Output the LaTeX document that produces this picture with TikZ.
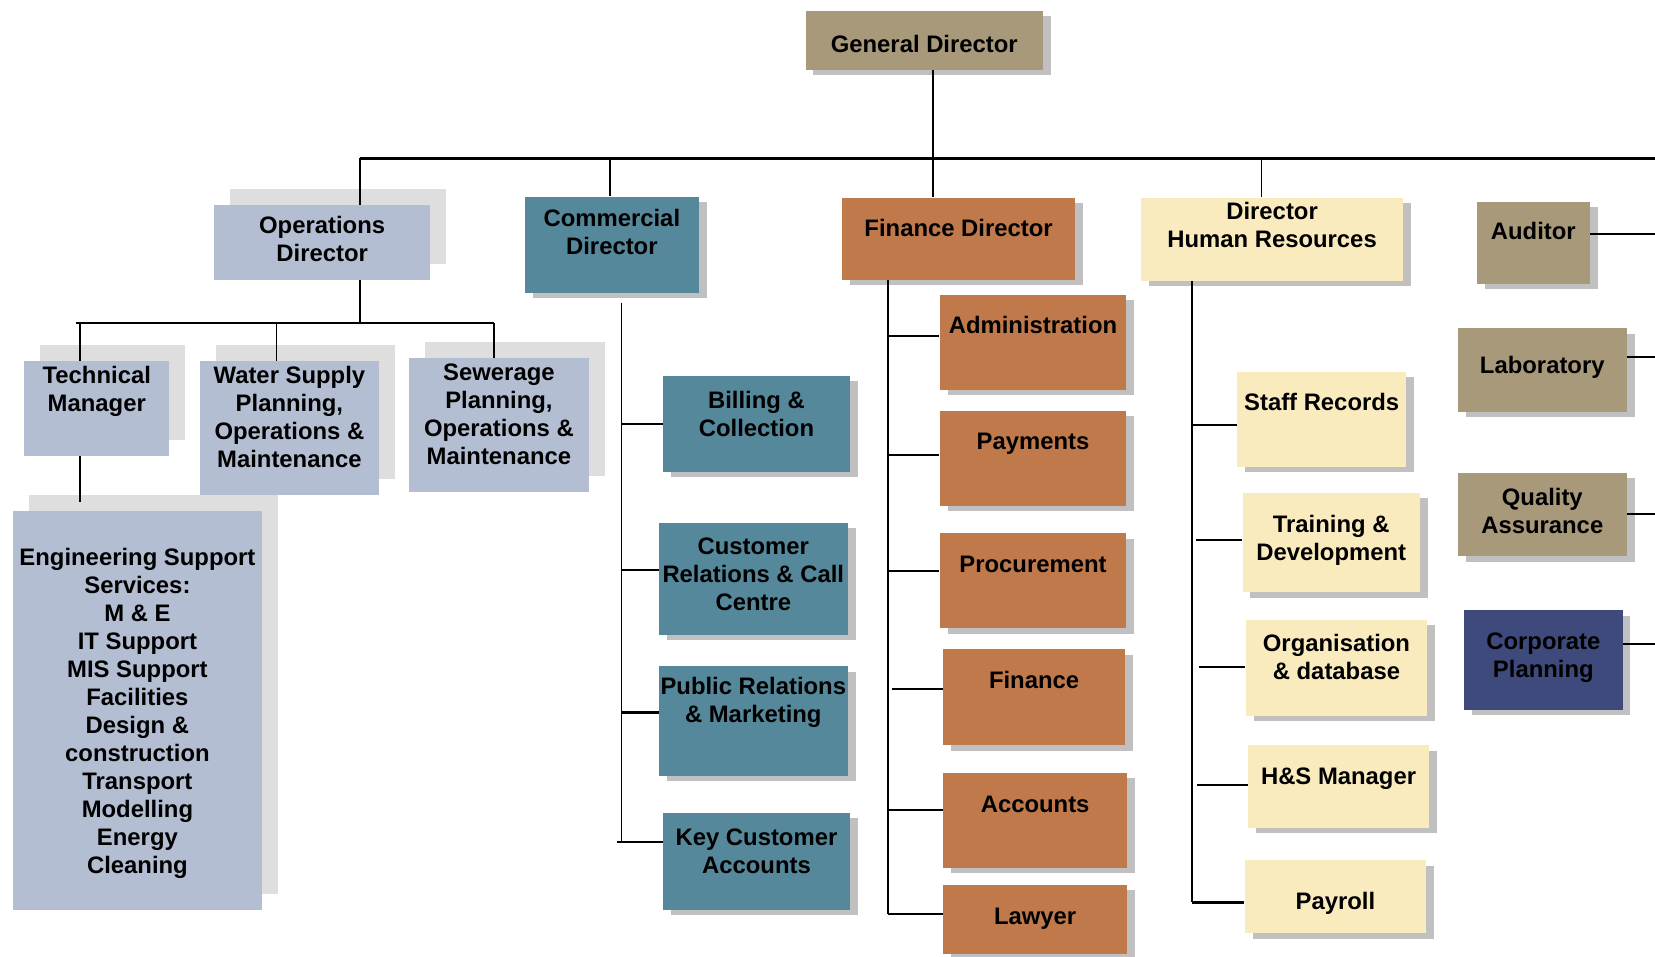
\documentclass[tikz,border=0pt]{standalone}
\usepackage{fontspec}
\setmainfont{Liberation Sans}
\usetikzlibrary{shadows}

\definecolor{tanfill}{RGB}{168,153,123}
\definecolor{opsfill}{RGB}{180,190,211}
\definecolor{comfill}{RGB}{85,136,154}
\definecolor{finfill}{RGB}{192,121,75}
\definecolor{hrfill}{RGB}{250,235,190}
\definecolor{cpfill}{RGB}{62,74,123}
\definecolor{shade}{RGB}{192,192,192}
\definecolor{shadelight}{RGB}{222,222,222}

\tikzset{box/.style = {anchor = north west,
                       inner sep = 0pt,
                       align = center,
                       text = black,
                       font = \bfseries\fontsize{22.6}{26.5}\selectfont},
         cell/.style n args = {3}{minimum width = #1pt,
                                  text height = #2pt,
                                  text depth = #3pt},
         hard/.style = {drop shadow = {shadow xshift = 7.5pt,
                                       shadow yshift = -5pt,
                                       fill = shade,
                                       opacity = 1}},
         soft/.style = {drop shadow = {shadow xshift = 15pt,
                                       shadow yshift = 15pt,
                                       fill = shadelight,
                                       opacity = 1}},
         tanbox/.style = {box, fill = tanfill, hard},
         opsbox/.style = {box, fill = opsfill, soft},
         combox/.style = {box, fill = comfill, hard},
         finbox/.style = {box, fill = finfill, hard},
         hrbox/.style = {box, fill = hrfill, hard},
         cpbox/.style = {box, fill = cpfill, hard},
         link/.style = {draw = black, line width = 2pt},
         thinlink/.style = {draw = black, line width = 1.1pt},
         bar/.style = {draw = black, line width = 2.5pt}}

\begin{document}
\begin{tikzpicture}[x = 1pt, y = -1pt]
    \useasboundingbox (0,0) rectangle (1568,906);

    % top level
    \node[tanbox, cell = {225}{40}{16}] (gd) at (763,10) {General Director};
    \node[opsbox, cell = {204}{53.5}{17.5}] (ops) at (203,194) {Operations\\Director};
    \node[combox, cell = {165}{54.5}{36.5}] (com) at (497,186) {Commercial\\Director};
    \node[finbox, cell = {220}{37}{41}] (find) at (798,187) {Finance Director};
    \node[hrbox, cell = {248}{47.5}{31.5}] (hrd) at (1081,187) {Director\\Human Resources};
    \node[tanbox, cell = {107}{36}{42}] (aud) at (1399,191) {Auditor};
    \node[tanbox, cell = {160}{43}{36}] (lab) at (1381,311) {Laboratory};
    \node[tanbox, cell = {160}{57.5}{21.5}] (qa) at (1381,448) {Quality\\Assurance};
    \node[cpbox, cell = {150}{63.5}{30.5}] (cp) at (1387,578) {Corporate\\Planning};

    % operations
    \node[opsbox, cell = {137}{47.5}{42.5}] (tech) at (23,342) {Technical\\Manager};
    \node[opsbox, cell = {170}{100.5}{26.5}] (water) at (189,342) {Water Supply\\Planning,\\Operations \&\\Maintenance};
    \node[opsbox, cell = {171}{100.5}{26.5}] (sew) at (387,339) {Sewerage\\Planning,\\Operations \&\\Maintenance};
    \node[opsbox, cell = {236}{343.5}{34.5}] (eng) at (12,484) {Engineering Support\\Services:\\M \& E\\IT Support\\MIS Support\\Facilities\\Design \&\\construction\\Transport\\Modelling\\Energy\\Cleaning};

    % commercial
    \node[combox, cell = {177}{57.5}{33.5}] (bill) at (628,356) {Billing \&\\Collection};
    \node[combox, cell = {179}{83}{23}] (cust) at (624,495) {Customer\\Relations \& Call\\Centre};
    \node[combox, cell = {179}{53.5}{50.5}] (pr) at (624,631) {Public Relations\\\& Marketing};
    \node[combox, cell = {177}{57.5}{34.5}] (kca) at (628,770) {Key Customer\\Accounts};

    % finance
    \node[finbox, cell = {177}{37}{53}] (adm) at (890,279) {Administration};
    \node[finbox, cell = {177}{37}{53}] (pay) at (890,389) {Payments};
    \node[finbox, cell = {177}{37}{53}] (proc) at (890,505) {Procurement};
    \node[finbox, cell = {173}{37}{54}] (fin) at (893,615) {Finance};
    \node[finbox, cell = {175}{38}{52}] (acc) at (893,732) {Accounts};
    \node[finbox, cell = {175}{38}{28}] (law) at (893,838) {Lawyer};

    % human resources
    \node[hrbox, cell = {160}{37}{53}] (staff) at (1172,352) {Staff Records};
    \node[hrbox, cell = {168}{63.5}{30.5}] (train) at (1177,467) {Training \&\\Development};
    \node[hrbox, cell = {172}{56.5}{34.5}] (org) at (1180,587) {Organisation\\\& database};
    \node[hrbox, cell = {172}{37}{41}] (hs) at (1182,706) {H\&S Manager};
    \node[hrbox, cell = {172}{46}{23}] (payr) at (1179,815) {Payroll};

    % main bus
    \coordinate (busL) at (341,150);
    \coordinate (busR) at (1568,150);
    \coordinate (gdj) at (884,150);
    \coordinate (comj) at (578,150);
    \coordinate (hrj) at (1195,150);
    \path (busL) edge[bar] (busR);
    \path (gd.south -| gdj) edge[thinlink] (gdj);
    \path (busL) edge[link] (busL |- ops.north);
    \path (comj) edge[link] (comj |- com.north);
    \path (gdj) edge[thinlink] (gdj |- find.north);
    \path (hrj) edge[thinlink] (hrj |- hrd.north);

    % right column
    \coordinate (r1) at (1568,222);
    \coordinate (r2) at (1568,338);
    \coordinate (r3) at (1568,487);
    \coordinate (r4) at (1568,610);
    \path (r1 -| aud.east) edge[link] (r1);
    \path (r2 -| lab.east) edge[link] (r2);
    \path (r3 -| qa.east) edge[link] (r3);
    \path (r4 -| cp.east) edge[link] (r4);

    % operations tree
    \coordinate (opsj) at (341,306);
    \coordinate (opsL) at (72,306);
    \coordinate (tj) at (76,306);
    \coordinate (wj) at (262,306);
    \coordinate (sj) at (468,306);
    \coordinate (ej) at (76,476);
    \path (opsj |- ops.south) edge[link] (opsj);
    \path (opsL) edge[link] (sj);
    \path (tj) edge[link] (tj |- tech.north);
    \path (wj) edge[thinlink] (wj |- water.north);
    \path (sj) edge[link] (sj |- sew.north);
    \path (tj |- tech.south) edge[link] (ej);

    % commercial tree
    \coordinate (ctop) at (589,287);
    \coordinate (c1) at (589,402);
    \coordinate (c2) at (589,540);
    \coordinate (c3) at (589,675);
    \coordinate (c4) at (585,798);
    \path (ctop) edge[thinlink] (589,798);
    \path (c1) edge[link] (c1 -| bill.west);
    \path (c2) edge[link] (c2 -| cust.west);
    \path (c3) edge[link] (c3 -| pr.west);
    \path (c4) edge[link] (c4 -| kca.west);

    % finance tree
    \coordinate (f1) at (841,318);
    \coordinate (f2) at (841,431);
    \coordinate (f3) at (841,541);
    \coordinate (f4) at (845,653);
    \coordinate (f5) at (841,767);
    \coordinate (f6) at (841,866);
    \path (f6 |- find.south) edge[link] (f6);
    \path (f1) edge[link] (f1 -| adm.west);
    \path (f2) edge[link] (f2 -| pay.west);
    \path (f3) edge[link] (f3 -| proc.west);
    \path (f4) edge[link] (f4 -| fin.west);
    \path (f5) edge[link] (f5 -| acc.west);
    \path (f6) edge[link] (f6 -| law.west);

    % human resources tree
    \coordinate (h1) at (1129,403);
    \coordinate (h2) at (1133,512);
    \coordinate (h3) at (1136,632);
    \coordinate (h4) at (1134,744);
    \coordinate (h5) at (1129,855);
    \path (h5 |- hrd.south) edge[link] (h5);
    \path (h1) edge[link] (h1 -| staff.west);
    \path (h2) edge[link] (h2 -| train.west);
    \path (h3) edge[link] (h3 -| org.west);
    \path (h4) edge[link] (h4 -| hs.west);
    \path (h5) edge[link] (h5 -| payr.west);
\end{tikzpicture}
\end{document}
